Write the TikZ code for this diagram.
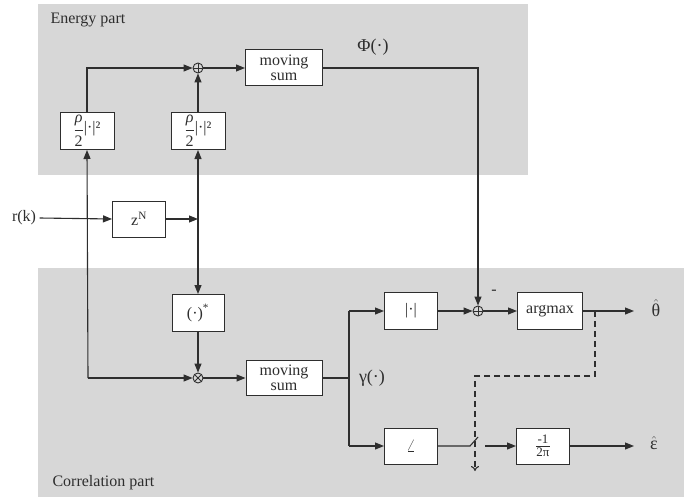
\documentclass[tikz,border=0pt]{standalone}
\usepackage{fontspec}
\setmainfont{Liberation Serif}
\usetikzlibrary{arrows.meta,calc}
\definecolor{bggray}{HTML}{D7D7D7}
\definecolor{linec}{HTML}{2E2E2E}
\newcommand{\fsmall}{\fontsize{13}{13}\selectfont}
\begin{document}
\begin{tikzpicture}[x=1pt,y=-1pt,
  txt/.style={font=\fontsize{16}{15}\selectfont, text=linec},
  blk/.style={draw=linec, fill=white, line width=1pt, inner sep=0pt, align=center,
    font=\fontsize{16}{15}\selectfont, text=linec},
  sumnode/.style={circle, draw=linec, line width=0.9pt, minimum size=10pt, inner sep=0pt,
    path picture={\draw[linec,line width=0.8pt] (path picture bounding box.north) -- (path picture bounding box.south)
      (path picture bounding box.west) -- (path picture bounding box.east);}},
  mulnode/.style={circle, draw=linec, line width=0.9pt, minimum size=10pt, inner sep=0pt,
    path picture={\draw[linec,line width=0.8pt]
      ([shift={(45:5pt)}]path picture bounding box.center) -- ([shift={(225:5pt)}]path picture bounding box.center)
      ([shift={(135:5pt)}]path picture bounding box.center) -- ([shift={(315:5pt)}]path picture bounding box.center);}},
  conn/.style={draw=linec, line width=1.1pt},
  arr/.style={conn, -{Triangle[length=9pt,width=7pt]}},
  dsh/.style={draw=linec, line width=1.1pt, dash pattern=on 6pt off 4pt, -{To[length=5pt,width=8pt]}}
]
\useasboundingbox (0,0) rectangle (684,497);
\fill[white] (0,0) rectangle (684,497);
% backgrounds
\fill[bggray] (38,4) rectangle (528,175);
\fill[bggray] (38,268) rectangle (684,497);
\node[txt, anchor=base west] (elab) at (47,24) {Energy part};
\node[txt, anchor=base west] (clab) at (49,486) {Correlation part};

% energy part nodes
\node[blk, minimum width=54pt, minimum height=37pt] (A) at (87,131)
  {$\displaystyle\frac{\hbox{\itshape ρ}}{\hbox{2}}$\raisebox{2pt}{|·|²}};
\node[blk, minimum width=54pt, minimum height=37pt] (B) at (198,131)
  {$\displaystyle\frac{\hbox{\itshape ρ}}{\hbox{2}}$\raisebox{2pt}{|·|²}};
\node[sumnode] (sumE) at (198,68) {};
\node[blk, minimum width=77pt, minimum height=36pt] (msE) at (284,68) {moving\\sum};
\node[txt, font=\fontsize{18}{18}\selectfont] (phi) at (373,47) {Φ(·)};

% input and delay
\node[txt] (rk) at (24,218) {r(k)};
\node[blk, minimum width=53pt, minimum height=36pt] (zN) at (139,219) {z\textsuperscript{N}};
\coordinate (jR) at (198,219);
\coordinate (jL) at (88,378);

% correlation nodes
\node[blk, minimum width=52pt, minimum height=37pt] (conj) at (198,313) {(·)\textsuperscript{*}};
\node[mulnode] (mult) at (198,378) {};
\node[blk, minimum width=76pt, minimum height=35pt] (msC) at (284,378) {moving\\sum};
\node[txt, font=\fontsize{18}{18}\selectfont] (gam) at (372,378) {γ(·)};
\coordinate (jG) at (349,378);
\coordinate (jGt) at (349,311);
\coordinate (jGb) at (349,446);
\node[blk, minimum width=53pt, minimum height=37pt] (abs) at (411,311) {|·|};
\node[sumnode] (sumC) at (478,311) {};
\node[txt] (minus) at (494,292) {-};
\node[blk, minimum width=65pt, minimum height=37pt] (argm) at (550,311) {argmax};
\coordinate (thEnd) at (634,311);
\node[txt, font=\fontsize{18}{18}\selectfont] (theta) at (656,308) {$\hat{\hbox{θ}}$};
\coordinate (jPhi) at (478,68);

\node[blk, minimum width=53pt, minimum height=36pt, font=\fontsize{18}{18}\selectfont] (ang) at (411,446) {$\angle$};
\node[blk, minimum width=53pt, minimum height=36pt] (inv) at (543,446)
  {$\frac{\hbox{\fsmall -1}}{\hbox{\fsmall 2π}}$};
\coordinate (swA) at (470,446);
\coordinate (swB) at (478,437);
\coordinate (swC) at (485,446);
\coordinate (epEnd) at (634,446);
\node[txt, font=\fontsize{18}{18}\selectfont] (eps) at (654,443) {$\hat{\hbox{ε}}$};

\coordinate (dA) at (595,311);
\coordinate (dB) at (595,376);
\coordinate (dC) at (475,376);
\coordinate (dD) at (475,471);

% connectors
\draw[arr] (rk.east) -- (zN.west);
\draw[arr] (zN.east) -- (jR);
\draw[arr] (jR) -- (B.south);
\draw[arr] (jR) -- (conj.north);
\draw[arr] (jL) -- (A.south);
\draw[arr] (jL) -- (mult.west);
\draw[arr] (A.north) |- (sumE.west);
\draw[arr] (B.north) -- (sumE.south);
\draw[arr] (sumE.east) -- (msE.west);
\draw[arr] (msE.east) -- (jPhi) -- (sumC.north);
\draw[arr] (conj.south) -- (mult.north);
\draw[arr] (mult.east) -- (msC.west);
\draw[conn] (msC.east) -- (jG);
\draw[conn] (jGt) -- (jGb);
\draw[arr] (jGt) -- (abs.west);
\draw[arr] (jGb) -- (ang.west);
\draw[arr] (abs.east) -- (sumC.west);
\draw[arr] (sumC.east) -- (argm.west);
\draw[arr] (argm.east) -- (thEnd);
\draw[conn] (ang.east) -- (swA) -- (swB);
\draw[arr] (swC) -- (inv.west);
\draw[arr] (inv.east) -- (epEnd);
\draw[dsh] (dA) -- (dB) -- (dC) -- (dD);
\end{tikzpicture}
\end{document}
